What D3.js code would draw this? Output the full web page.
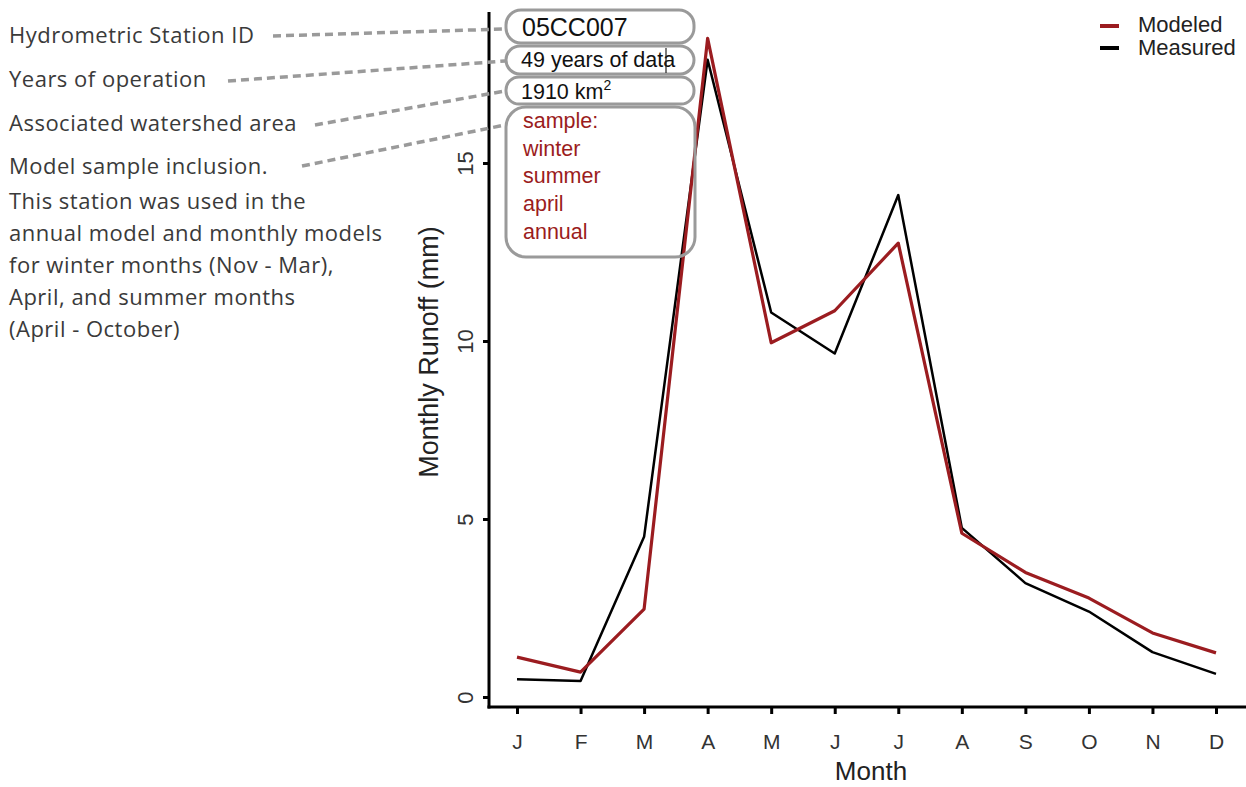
<!DOCTYPE html>
<html>
<head>
<meta charset="utf-8">
<script src="https://cdn.jsdelivr.net/npm/d3@7"></script>
<style>
  html, body { margin: 0; padding: 0; background: #fff; }
  svg { display: block; }
</style>
</head>
<body>
<svg id="chart" width="1246" height="787"></svg>
<script>
const months = ['J', 'F', 'M', 'A', 'M', 'J', 'J', 'A', 'S', 'O', 'N', 'D'];
const modeled = [1.12, 0.7, 2.47, 18.5, 9.95, 10.85, 12.75, 4.6, 3.5, 2.78, 1.8, 1.24];
const measured = [0.5, 0.45, 4.5, 17.9, 10.8, 9.65, 14.1, 4.75, 3.2, 2.4, 1.26, 0.65];
const yTicks = [0, 5, 10, 15];

const notes = [
  'Hydrometric Station ID',
  'Years of operation',
  'Associated watershed area',
  'Model sample inclusion.'
];
const noteBody = [
  'This station was used in the',
  'annual model and monthly models',
  'for winter months (Nov - Mar),',
  'April, and summer months',
  '(April - October)'
];
const stationId = '05CC007';
const yearsText = '49 years of data';
const areaText = '1910 km';
const sampleLines = ['sample:', 'winter', 'summer', 'april', 'annual'];

const RED = '#9b1c20';
const GREY = '#9a9a9a';
const SANS = 'Liberation Sans, Arial, sans-serif';

const svg = d3.select('#chart');

const x = d3.scalePoint().domain(d3.range(months.length)).range([517, 1216]);
const y = d3.scaleLinear().domain([0, 15]).range([697, 163]);

const axisX = 489, axisY = 707;

// axes
const gy = svg.append('g').attr('transform', `translate(${axisX},0)`)
  .call(d3.axisLeft(y).tickValues(yTicks).tickSize(6).tickPadding(0));
gy.select('.domain').remove();
gy.selectAll('.tick line').attr('stroke', '#000').attr('stroke-width', 3);
gy.selectAll('.tick text')
  .attr('transform', 'rotate(-90)')
  .attr('x', 0).attr('y', -16).attr('dy', 0)
  .attr('text-anchor', 'middle')
  .attr('font-family', SANS).attr('font-size', 22).attr('fill', '#333');

const gx = svg.append('g').attr('transform', `translate(0,${axisY})`)
  .call(d3.axisBottom(x).tickFormat(i => months[i]).tickSize(7));
gx.select('.domain').remove();
gx.selectAll('.tick line').attr('stroke', '#000').attr('stroke-width', 3);
gx.selectAll('.tick text')
  .attr('y', 42).attr('dy', 0)
  .attr('font-family', SANS).attr('font-size', 21).attr('fill', '#333');

svg.append('line').attr('x1', axisX).attr('x2', axisX).attr('y1', 12).attr('y2', axisY + 1.5)
  .attr('stroke', '#000').attr('stroke-width', 3);
svg.append('line').attr('x1', axisX - 1.5).attr('x2', 1246).attr('y1', axisY).attr('y2', axisY)
  .attr('stroke', '#000').attr('stroke-width', 3);

svg.append('text').attr('x', 871).attr('y', 780).attr('text-anchor', 'middle')
  .attr('font-family', SANS).attr('font-size', 26).attr('fill', '#222')
  .text('Month');
svg.append('text').attr('transform', 'translate(438,352) rotate(-90)').attr('text-anchor', 'middle')
  .attr('font-family', SANS).attr('font-size', 27).attr('fill', '#222')
  .text('Monthly Runoff (mm)');

// series
const line = d3.line().x((d, i) => x(i)).y(d => y(d));
svg.append('path').datum(measured).attr('d', line)
  .attr('fill', 'none').attr('stroke', '#000').attr('stroke-width', 2.5).attr('stroke-linejoin', 'round');
svg.append('path').datum(modeled).attr('d', line)
  .attr('fill', 'none').attr('stroke', RED).attr('stroke-width', 3.2).attr('stroke-linejoin', 'round');

// legend
const legend = svg.append('g').attr('font-family', SANS).attr('font-size', 22);
[['Modeled', RED, 26, 32], ['Measured', '#000', 48, 55]].forEach(([label, col, ly, ty]) => {
  legend.append('line').attr('x1', 1100).attr('x2', 1119).attr('y1', ly).attr('y2', ly)
    .attr('stroke', col).attr('stroke-width', 4);
  legend.append('text').attr('x', 1138).attr('y', ty).attr('fill', '#222').text(label);
});

// annotation text on the left
const ann = svg.append('g').attr('font-family', 'Open Sans, Noto Sans, sans-serif')
  .attr('font-size', 22).attr('letter-spacing', 0.5).attr('fill', '#3a3a3a');
const noteY = [43, 87, 131, 174];
notes.forEach((t, i) => ann.append('text').attr('x', 9).attr('y', noteY[i]).text(t));
noteBody.forEach((t, i) => ann.append('text').attr('x', 9).attr('y', 209 + i * 32).text(t));

// dashed leaders
const leaders = [[273, 36, 505, 29], [228, 81, 505, 61], [315, 125, 505, 91], [302, 166, 505, 125]];
svg.append('g').selectAll('line').data(leaders).join('line')
  .attr('x1', d => d[0]).attr('y1', d => d[1]).attr('x2', d => d[2]).attr('y2', d => d[3])
  .attr('stroke', GREY).attr('stroke-width', 3.5).attr('stroke-dasharray', '8,5');

// boxes
const boxes = [[506, 10, 188, 33, 15], [506, 46, 188, 28, 14], [506, 77, 188, 27, 13], [506, 107, 189, 150, 20]];
svg.append('g').selectAll('rect').data(boxes).join('rect')
  .attr('x', d => d[0]).attr('y', d => d[1]).attr('width', d => d[2]).attr('height', d => d[3])
  .attr('rx', d => d[4]).attr('fill', 'none').attr('stroke', GREY).attr('stroke-width', 3);

const bt = svg.append('g').attr('font-family', SANS).attr('fill', '#111');
bt.append('text').attr('x', 522).attr('y', 36).attr('font-size', 25).text(stationId);
bt.append('text').attr('x', 521).attr('y', 67).attr('font-size', 21.5).text(yearsText);
svg.append('line').attr('x1', 666).attr('x2', 666).attr('y1', 48).attr('y2', 73)
  .attr('stroke', '#222').attr('stroke-width', 1.2);
const area = bt.append('text').attr('x', 521).attr('y', 99).attr('font-size', 21.5).text(areaText);
area.append('tspan').attr('dy', -9).attr('font-size', 14).text('2');
sampleLines.forEach((t, i) => bt.append('text').attr('x', 523).attr('y', 128 + i * 27.7)
  .attr('font-size', 21.5).attr('fill', RED).text(t));
</script>
</body>
</html>
